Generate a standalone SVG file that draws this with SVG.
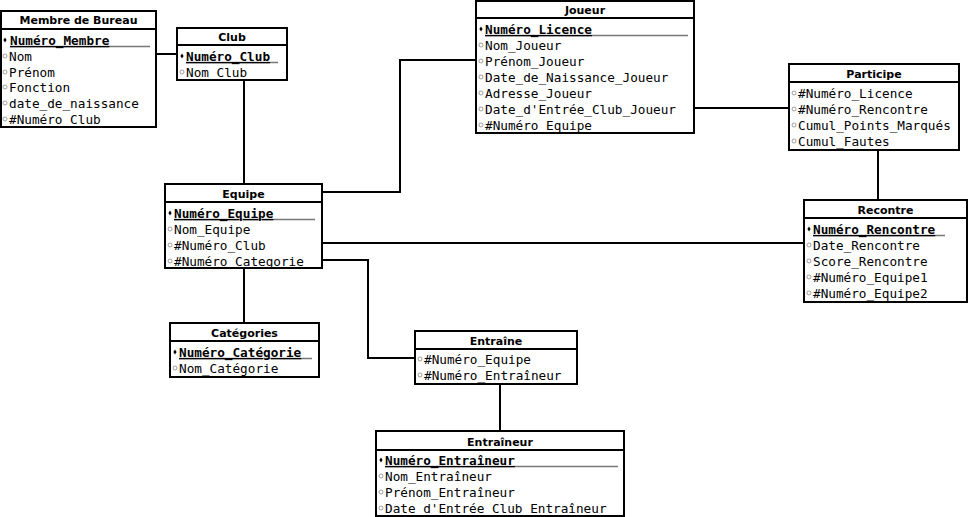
<svg xmlns="http://www.w3.org/2000/svg" width="970" height="517" viewBox="0 0 970 517">
<style>
.box{fill:#fff;stroke:#000;stroke-width:2}
.sep{stroke:#000;stroke-width:2}
.title{font-family:"DejaVu Sans",sans-serif;font-weight:bold;font-size:11px;text-anchor:middle;fill:#000}
.attr{font-family:"DejaVu Sans Mono",monospace;font-size:12.7px;fill:#000}
.key{font-weight:bold;text-decoration:underline}
.ul{stroke:#777;stroke-width:1.5}
.conn{fill:none;stroke:#000;stroke-width:2}
.kb{fill:#000}
.ab{fill:#fff;stroke:#888;stroke-width:0.8}
</style>
<defs>
<path id="kd" d="M0,-2.5 L1.6,0 L0,2.5 L-1.6,0 Z" class="kb"/>
<circle id="ad" r="2" class="ab"/>
</defs>
<g id="connectors">
<path class="conn" d="M156,54 H177"/>
<path class="conn" d="M244,80 V184"/>
<path class="conn" d="M322,192 H400 V60 H476"/>
<path class="conn" d="M694,108 H789"/>
<path class="conn" d="M878,150 V200"/>
<path class="conn" d="M322,243 H804"/>
<path class="conn" d="M322,260 H368 V358 H415"/>
<path class="conn" d="M244,268 V323"/>
<path class="conn" d="M500,384 V431"/>
</g>
<g id="membre">
<rect class="box" x="1" y="11" width="155" height="116"/>
<line class="sep" x1="1" y1="29" x2="156" y2="29"/>
<text class="title" x="78.5" y="24">Membre de Bureau</text>
<line class="ul" x1="10" y1="46.5" x2="150" y2="46.5"/>
<use href="#kd" x="5" y="40"/>
<text class="attr key" x="10" y="45">Numéro_Membre</text>
<use href="#ad" x="5" y="56"/><text class="attr" x="9" y="61">Nom</text>
<use href="#ad" x="5" y="72"/><text class="attr" x="9" y="77">Prénom</text>
<use href="#ad" x="5" y="87"/><text class="attr" x="9" y="92">Fonction</text>
<use href="#ad" x="5" y="103"/><text class="attr" x="9" y="108">date_de_naissance</text>
<use href="#ad" x="5" y="119"/><text class="attr" x="9" y="124">#Numéro_Club</text>
</g>
<g id="club">
<rect class="box" x="177" y="28" width="110" height="52"/>
<line class="sep" x1="177" y1="45" x2="287" y2="45"/>
<text class="title" x="232" y="41">Club</text>
<line class="ul" x1="186" y1="62.5" x2="278" y2="62.5"/>
<use href="#kd" x="182" y="56"/>
<text class="attr key" x="186" y="61">Numéro_Club</text>
<use href="#ad" x="182" y="72"/><text class="attr" x="186" y="77">Nom_Club</text>
</g>
<g id="joueur">
<rect class="box" x="476" y="1" width="218" height="132"/>
<line class="sep" x1="476" y1="18" x2="694" y2="18"/>
<text class="title" x="585" y="14">Joueur</text>
<line class="ul" x1="485" y1="35.5" x2="688" y2="35.5"/>
<use href="#kd" x="481" y="29"/>
<text class="attr key" x="485" y="34">Numéro_Licence</text>
<use href="#ad" x="481" y="45"/><text class="attr" x="485" y="50">Nom_Joueur</text>
<use href="#ad" x="481" y="61"/><text class="attr" x="485" y="66">Prénom_Joueur</text>
<use href="#ad" x="481" y="77"/><text class="attr" x="485" y="82">Date_de_Naissance_Joueur</text>
<use href="#ad" x="481" y="93"/><text class="attr" x="485" y="98">Adresse_Joueur</text>
<use href="#ad" x="481" y="109"/><text class="attr" x="485" y="114">Date_d'Entrée_Club_Joueur</text>
<use href="#ad" x="481" y="125"/><text class="attr" x="485" y="130">#Numéro_Equipe</text>
</g>
<g id="participe">
<rect class="box" x="789" y="64" width="170" height="86"/>
<line class="sep" x1="789" y1="82" x2="959" y2="82"/>
<text class="title" x="874" y="78">Participe</text>
<use href="#ad" x="794" y="93"/><text class="attr" x="798" y="98">#Numéro_Licence</text>
<use href="#ad" x="794" y="109"/><text class="attr" x="798" y="114">#Numéro_Rencontre</text>
<use href="#ad" x="794" y="125"/><text class="attr" x="798" y="130">Cumul_Points_Marqués</text>
<use href="#ad" x="794" y="141"/><text class="attr" x="798" y="146">Cumul_Fautes</text>
</g>
<g id="equipe">
<rect class="box" x="165" y="184" width="157" height="84"/>
<line class="sep" x1="165" y1="202" x2="322" y2="202"/>
<text class="title" x="243.5" y="198">Equipe</text>
<line class="ul" x1="174" y1="219.5" x2="315" y2="219.5"/>
<use href="#kd" x="170" y="213"/>
<text class="attr key" x="174" y="218">Numéro_Equipe</text>
<use href="#ad" x="170" y="229"/><text class="attr" x="174" y="234">Nom_Equipe</text>
<use href="#ad" x="170" y="245"/><text class="attr" x="174" y="250">#Numéro_Club</text>
<use href="#ad" x="170" y="261"/><text class="attr" x="174" y="266">#Numéro_Categorie</text>
</g>
<g id="recontre">
<rect class="box" x="804" y="200" width="163" height="102"/>
<line class="sep" x1="804" y1="218" x2="967" y2="218"/>
<text class="title" x="885.5" y="214">Recontre</text>
<line class="ul" x1="813" y1="235.5" x2="945" y2="235.5"/>
<use href="#kd" x="809" y="229"/>
<text class="attr key" x="813" y="234">Numéro_Rencontre</text>
<use href="#ad" x="809" y="245"/><text class="attr" x="813" y="250">Date_Rencontre</text>
<use href="#ad" x="809" y="261"/><text class="attr" x="813" y="266">Score_Rencontre</text>
<use href="#ad" x="809" y="277"/><text class="attr" x="813" y="282">#Numéro_Equipe1</text>
<use href="#ad" x="809" y="293"/><text class="attr" x="813" y="298">#Numéro_Equipe2</text>
</g>
<g id="categories">
<rect class="box" x="170" y="323" width="149" height="54"/>
<line class="sep" x1="170" y1="341" x2="319" y2="341"/>
<text class="title" x="244.5" y="337">Catégories</text>
<line class="ul" x1="179" y1="358.5" x2="312" y2="358.5"/>
<use href="#kd" x="175" y="352"/>
<text class="attr key" x="179" y="357">Numéro_Catégorie</text>
<use href="#ad" x="175" y="368"/><text class="attr" x="179" y="373">Nom_Catégorie</text>
</g>
<g id="entraine">
<rect class="box" x="415" y="331" width="162" height="53"/>
<line class="sep" x1="415" y1="349" x2="577" y2="349"/>
<text class="title" x="496" y="345">Entraîne</text>
<use href="#ad" x="420" y="359"/><text class="attr" x="424" y="364">#Numéro_Equipe</text>
<use href="#ad" x="420" y="375"/><text class="attr" x="424" y="380">#Numéro_Entraîneur</text>
</g>
<g id="entraineur">
<rect class="box" x="376" y="431" width="248" height="85"/>
<line class="sep" x1="376" y1="450" x2="624" y2="450"/>
<text class="title" x="500" y="446">Entraîneur</text>
<line class="ul" x1="385" y1="466.5" x2="618" y2="466.5"/>
<use href="#kd" x="381" y="460"/>
<text class="attr key" x="385" y="465">Numéro_Entraîneur</text>
<use href="#ad" x="381" y="476"/><text class="attr" x="385" y="481">Nom_Entraîneur</text>
<use href="#ad" x="381" y="492"/><text class="attr" x="385" y="497">Prénom_Entraîneur</text>
<use href="#ad" x="381" y="508"/><text class="attr" x="385" y="513">Date_d'Entrée_Club_Entraîneur</text>
</g>
</svg>
